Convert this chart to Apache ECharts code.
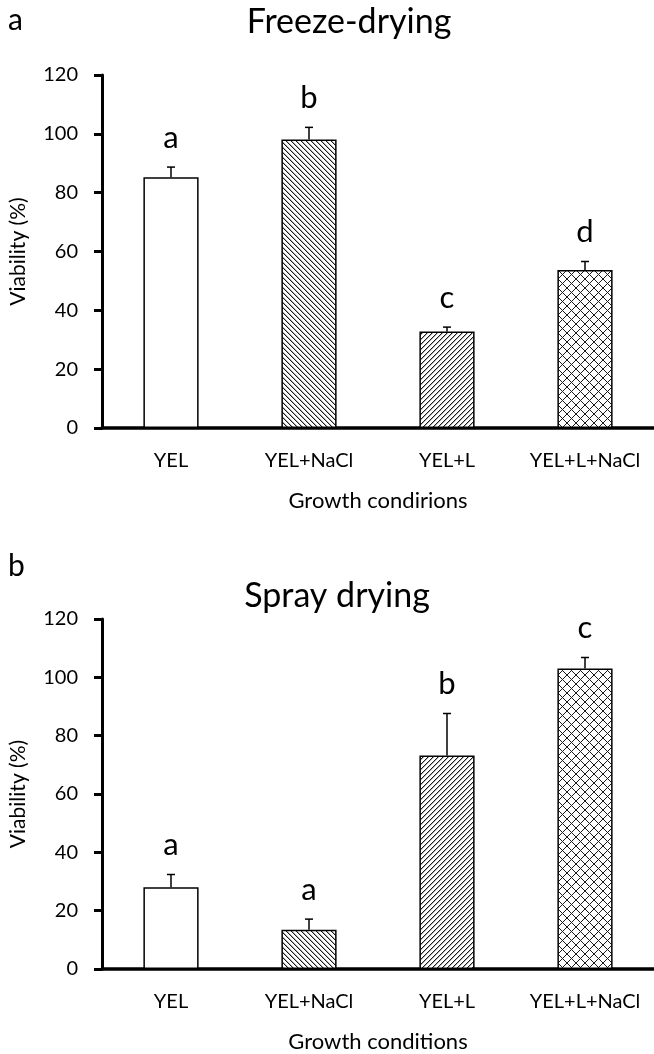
<!DOCTYPE html>
<html>
<head>
<meta charset="utf-8">
<script src="https://cdn.jsdelivr.net/npm/echarts@6/dist/echarts.min.js"></script>
<style>
html,body{margin:0;padding:0;background:#fff;}
#chart{width:654px;height:1054px;}
</style>
</head>
<body>
<div id="chart"></div>
<script>
const categories = ['YEL', 'YEL+NaCl', 'YEL+L', 'YEL+L+NaCl'];
const freezeValues = [85.2, 98.1, 32.8, 53.7];
const freezeErrors = [3.5, 4.1, 1.5, 2.9];
const freezeLetters = ['a', 'b', 'c', 'd'];
const sprayValues = [28.0, 13.5, 73.2, 103.0];
const sprayErrors = [4.4, 3.6, 14.4, 3.8];
const sprayLetters = ['a', 'a', 'b', 'c'];
const yMin = 0, yMax = 120, yStep = 20;
const titleTop = 'Freeze-drying';
const titleBottom = 'Spray drying';
const xNameTop = 'Growth condirions';
const xNameBottom = 'Growth conditions';
const yName = 'Viability (%)';

const FONT = 'Lato, "Open Sans", sans-serif';

function makePattern(kind) {
  const c = document.createElement('canvas');
  const n = kind === 'cross' ? 9 : 5;
  c.width = n; c.height = n;
  const ctx = c.getContext('2d');
  ctx.fillStyle = '#fff';
  ctx.fillRect(0, 0, n, n);
  ctx.fillStyle = '#1a1a1a';
  for (let i = 0; i < n; i++) {
    if (kind === 'back' || kind === 'cross') ctx.fillRect(i, i, 1, 1);
    if (kind === 'fwd' || kind === 'cross') ctx.fillRect(n - 1 - i, i, 1, 1);
  }
  ctx.fillStyle = 'rgba(30,30,30,0.35)';
  if (kind !== 'cross') {
    for (let i = 0; i < n; i++) {
      if (kind === 'back') ctx.fillRect((i + 1) % n, i, 1, 1);
      if (kind === 'fwd') ctx.fillRect((n - i) % n, i, 1, 1);
    }
  }
  return { image: c, repeat: 'repeat' };
}
const fills = ['#ffffff', makePattern('back'), makePattern('fwd'), makePattern('cross')];

function barData(values) {
  return values.map((v, i) => ({
    value: v,
    itemStyle: { color: fills[i], borderColor: '#000', borderWidth: 1.5 }
  }));
}

function errSeries(values, errors, idx) {
  return {
    type: 'custom',
    xAxisIndex: idx, yAxisIndex: idx,
    data: values.map((v, i) => [i, v, v + errors[i]]),
    z: 5,
    renderItem: function (params, api) {
      const base = api.coord([api.value(0), api.value(1)]);
      const top = api.coord([api.value(0), api.value(2)]);
      return {
        type: 'group',
        children: [
          { type: 'line', shape: { x1: base[0], y1: base[1], x2: top[0], y2: top[1] }, style: { stroke: '#000', lineWidth: 1.5 } },
          { type: 'line', shape: { x1: top[0] - 4, y1: top[1], x2: top[0] + 4, y2: top[1] }, style: { stroke: '#000', lineWidth: 1.5 } }
        ]
      };
    }
  };
}

function letterSeries(values, errors, letters, idx) {
  return {
    type: 'custom',
    xAxisIndex: idx, yAxisIndex: idx,
    data: values.map((v, i) => [i, v + errors[i]]),
    z: 6,
    renderItem: function (params, api) {
      const p = api.coord([api.value(0), api.value(1)]);
      return {
        type: 'text',
        style: {
          x: p[0], y: p[1] - 14,
          text: letters[params.dataIndex],
          fill: '#000',
          font: '31px ' + FONT,
          textAlign: 'center',
          textVerticalAlign: 'bottom'
        }
      };
    }
  };
}

function xAxis(idx, name) {
  return {
    type: 'category', gridIndex: idx, data: categories,
    axisLine: { lineStyle: { color: '#000', width: 3.5 } },
    axisTick: { show: false },
    axisLabel: { color: '#000', fontSize: 20, fontFamily: FONT, margin: 23, interval: 0, hideOverlap: false },
    name: name, nameLocation: 'middle', nameGap: 62,
    nameTextStyle: { color: '#000', fontSize: 22, fontFamily: FONT }
  };
}
function yAxis(idx) {
  return {
    type: 'value', gridIndex: idx, min: yMin, max: yMax, interval: yStep,
    axisLine: { show: true, lineStyle: { color: '#000', width: 3 } },
    axisTick: { show: true, length: 8, lineStyle: { color: '#000', width: 3 } },
    splitLine: { show: false },
    axisLabel: { color: '#000', fontSize: 20, fontFamily: FONT, margin: 24 },
    name: yName, nameLocation: 'middle', nameGap: 73, nameRotate: 90,
    nameTextStyle: { color: '#000', fontSize: 21, fontFamily: FONT }
  };
}

const chart = echarts.init(document.getElementById('chart'), null, { renderer: 'canvas' });
chart.setOption({
  backgroundColor: '#fff',
  animation: false,
  title: [
    { text: 'a', left: 3, top: 0, textStyle: { fontSize: 30, fontWeight: 'normal', color: '#000', fontFamily: FONT } },
    { text: titleTop, left: 344, top: 0, textAlign: 'center', textStyle: { fontSize: 34, fontWeight: 'normal', color: '#000', fontFamily: FONT } },
    { text: 'b', left: 3, top: 546, textStyle: { fontSize: 30, fontWeight: 'normal', color: '#000', fontFamily: FONT } },
    { text: titleBottom, left: 332, top: 574, textAlign: 'center', textStyle: { fontSize: 34, fontWeight: 'normal', color: '#000', fontFamily: FONT } }
  ],
  grid: [
    { left: 96, top: 75, width: 558, height: 353 },
    { left: 96, top: 619, width: 558, height: 354 }
  ],
  xAxis: [xAxis(0, xNameTop), xAxis(1, xNameBottom)],
  yAxis: [yAxis(0), yAxis(1)],
  series: [
    { type: 'bar', xAxisIndex: 0, yAxisIndex: 0, barWidth: '40%', data: barData(freezeValues) },
    errSeries(freezeValues, freezeErrors, 0),
    letterSeries(freezeValues, freezeErrors, freezeLetters, 0),
    { type: 'bar', xAxisIndex: 1, yAxisIndex: 1, barWidth: '40%', data: barData(sprayValues) },
    errSeries(sprayValues, sprayErrors, 1),
    letterSeries(sprayValues, sprayErrors, sprayLetters, 1)
  ]
});
</script>
</body>
</html>
